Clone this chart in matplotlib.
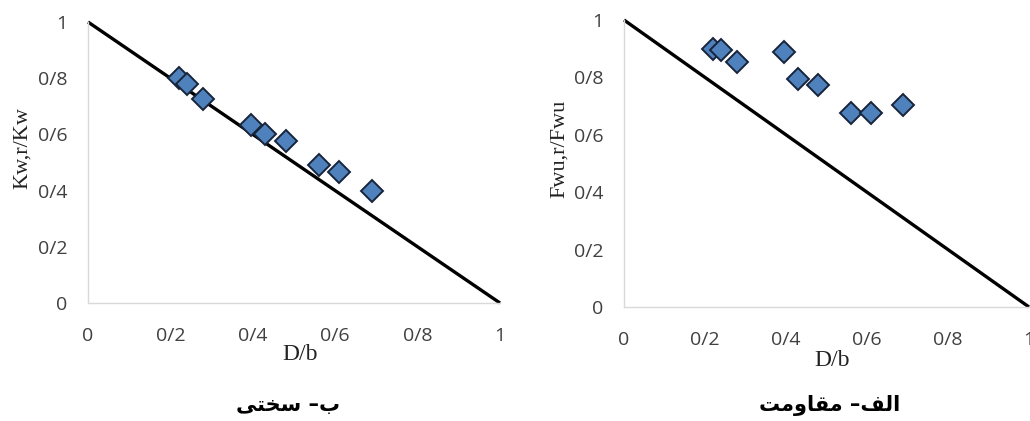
import matplotlib
matplotlib.use('Agg')
import matplotlib.pyplot as plt

# relative hole size D/b for the nine tested walls
d_b = [0.22, 0.24, 0.28, 0.395, 0.43, 0.48, 0.56, 0.61, 0.69]
# stiffness ratio Kw,r/Kw
kw_ratio = [0.80, 0.78, 0.725, 0.635, 0.60, 0.575, 0.49, 0.465, 0.40]
# strength ratio Fwu,r/Fwu
fwu_ratio = [0.90, 0.895, 0.855, 0.89, 0.795, 0.775, 0.675, 0.675, 0.705]

# reference line 1 - D/b
ref_x = [0, 1]
ref_y = [1, 0]

ticks = [0, 0.2, 0.4, 0.6, 0.8, 1]
tick_labels = ['0', '0/2', '0/4', '0/6', '0/8', '1']

# matplotlib does no arabic shaping / bidi, so the captions are written
# with presentation forms, already in visual (left to right) order
cap_stiffness = '\uFEF0\uFE98\uFEA8\uFEB3 \u2013\uFE8F'              # ب– سختی
cap_strength = '\uFE96\uFEE3\uFEED\uFE8E\uFED8\uFEE3 \u2013\uFED2\uFEDF\uFE8D'  # الف– مقاومت

W, H = 1030, 421
fig = plt.figure(figsize=(W / 100, H / 100), dpi=100)
fig.patch.set_facecolor('white')


def px_axes(x0, x1, ytop, ybot):
    return fig.add_axes([x0 / W, 1 - ybot / H, (x1 - x0) / W, (ybot - ytop) / H])


def style(ax, ylab):
    ax.plot(ref_x, ref_y, color='black', lw=2.4, clip_on=False, zorder=2,
            solid_capstyle='butt')
    ax.set_xlim(0, 1)
    ax.set_ylim(0, 1)
    for s in ['top', 'right']:
        ax.spines[s].set_visible(False)
    for s in ['left', 'bottom']:
        ax.spines[s].set_color('#d9d9d9')
        ax.spines[s].set_linewidth(1.0)
    ax.set_xticks(ticks)
    ax.set_xticklabels(tick_labels)
    ax.set_yticks(ticks)
    ax.set_yticklabels(tick_labels)
    ax.tick_params(length=0, labelsize=14, colors='#404040')
    ax.tick_params(axis='y', pad=15)
    ax.tick_params(axis='x', pad=17)
    for lab in ax.get_xticklabels() + ax.get_yticklabels():
        lab.set_fontfamily('Open Sans')
    ax.text(0.515, -0.185, 'D/b', transform=ax.transAxes, ha='center',
            va='center', fontsize=17, family='Liberation Serif', color='#222222')
    ax.text(-0.16, 0.55, ylab, transform=ax.transAxes, ha='center',
            va='center', rotation=90, fontsize=16, family='Liberation Serif',
            color='#222222')


ax1 = px_axes(88, 500, 22, 303)
style(ax1, 'Kw,r/Kw')
ax1.plot(d_b, kw_ratio, 'D', ms=11, mfc='#4f81bd', mec='#17243a', mew=1.4,
         ls='none', zorder=3, clip_on=False)

ax2 = px_axes(624, 1029, 20, 307)
style(ax2, 'Fwu,r/Fwu')
ax2.plot(d_b, fwu_ratio, 'D', ms=11, mfc='#4f81bd', mec='#17243a', mew=1.4,
         ls='none', zorder=3, clip_on=False)

fig.text(288 / W, 1 - 405 / H, cap_stiffness, ha='center', va='center',
         fontsize=15, fontweight='bold', family='DejaVu Sans')
fig.text(830 / W, 1 - 405 / H, cap_strength, ha='center', va='center',
         fontsize=15, fontweight='bold', family='DejaVu Sans')

fig.savefig('out.png', dpi=100, facecolor='white')
